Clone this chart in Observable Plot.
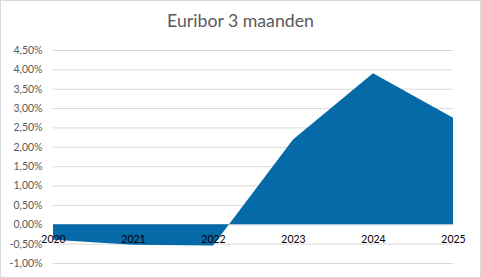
<!DOCTYPE html>
<html>
<head>
<meta charset="utf-8">
<script src="https://cdn.jsdelivr.net/npm/d3@7"></script>
<script src="https://cdn.jsdelivr.net/npm/@observablehq/plot@0.6"></script>
<style>
  html, body { margin: 0; padding: 0; background: #fff; }
  #chart {
    position: relative; width: 481px; height: 278px; box-sizing: border-box;
    border: 1px solid #d9d9d9; background: #fff; overflow: hidden;
  }
  #title {
    position: absolute; left: 0; width: 100%; top: 11px; text-align: center;
    font-family: Lato, sans-serif; font-size: 17.7px; line-height: 17.7px; color: #595959;
  }
  #plot { position: absolute; left: 0; top: 0; }
</style>
</head>
<body>
<div id="chart"><div id="plot"></div><div id="title"></div></div>
<script>
const title = "Euribor 3 maanden";
const years = [2020, 2021, 2022, 2023, 2024, 2025];
const rates = [-0.40, -0.53, -0.55, 2.19, 3.90, 2.75];
const yTicks = [-1, -0.5, 0, 0.5, 1, 1.5, 2, 2.5, 3, 3.5, 4, 4.5];

const data = years.map((y, i) => ({year: y, rate: rates[i]}));
const fmt = d => d.toFixed(2).replace(".", ",") + "%";

document.getElementById("title").textContent = title;

const chart = Plot.plot({
  width: 479,
  height: 276,
  marginLeft: 52,
  marginRight: 27,
  marginTop: 49,
  marginBottom: 14,
  style: {fontFamily: "Lato, sans-serif", fontSize: "10.5px", color: "#595959", background: "transparent"},
  x: {domain: [2020, 2025], axis: null},
  y: {domain: [-1, 4.5], axis: null},
  marks: [
    Plot.ruleY(yTicks, {stroke: "#d9d9d9", strokeWidth: 1}),
    Plot.areaY(data, {x: "year", y: "rate", fill: "#0669a8", curve: "linear"}),
    Plot.axisY({ticks: yTicks, tickSize: 0, tickPadding: 11, tickFormat: fmt, fill: "#595959", label: null}),
    Plot.text(years, {x: d => d, y: 0, dy: 15, text: d => String(d), fill: "#000"})
  ]
});
document.getElementById("plot").appendChild(chart);
</script>
</body>
</html>
